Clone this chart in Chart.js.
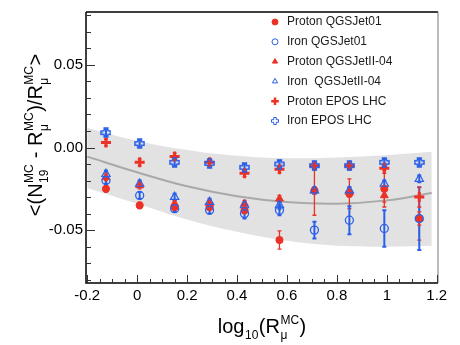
<!DOCTYPE html>
<html>
<head>
<meta charset="utf-8">
<script src="https://cdn.jsdelivr.net/npm/chart.js@4.4.1/dist/chart.umd.min.js"></script>
<style>
  html, body { margin: 0; padding: 0; background: #fff; }
  canvas { display: block; }
</style>
</head>
<body>
<canvas id="muonChart" width="460" height="345"></canvas>
<script>
// x positions of the energy bins, log10(R_mu^MC)
const xBins = [-0.125, 0.01, 0.15, 0.29, 0.43, 0.57, 0.71, 0.85, 0.99, 1.13];

// series values and their errors
const protonQgs01 = [-0.025, -0.035, -0.036, -0.036, -0.038, -0.056, -0.026, -0.028, -0.025, -0.043];
const protonQgs01Err = [0.002, 0.002, 0.002, 0.002, 0.002, 0.0055, 0.015, 0.009, 0.011, 0.013];
const ironQgs01 = [-0.020, -0.029, -0.037, -0.038, -0.040, -0.038, -0.050, -0.044, -0.049, -0.043];
const ironQgs01Err = [0.002, 0.002, 0.002, 0.002, 0.003, 0.003, 0.005, 0.0085, 0.011, 0.019];
const protonQgs2 = [-0.018, -0.023, -0.034, -0.034, -0.034, -0.031, -0.026, -0.027, -0.029, -0.043];
const protonQgs2Err = [0.002, 0.002, 0.002, 0.002, 0.002, 0.002, 0.002, 0.003, 0.004, 0.004];
const ironQgs2 = [-0.016, -0.022, -0.030, -0.033, -0.035, -0.035, -0.026, -0.026, -0.022, -0.019];
const ironQgs2Err = [0.002, 0.002, 0.002, 0.002, 0.002, 0.002, 0.002, 0.002, 0.002, 0.002];
const protonEpos = [0.003, -0.009, -0.0054, -0.009, -0.0156, -0.0132, -0.011, -0.011, -0.0126, -0.030];
const protonEposErr = [0.002, 0.002, 0.002, 0.002, 0.002, 0.002, 0.002, 0.002, 0.003, 0.006];
const ironEpos = [0.009, 0.0024, -0.009, -0.0096, -0.012, -0.010, -0.011, -0.011, -0.009, -0.009];
const ironEposErr = [0.002, 0.002, 0.002, 0.002, 0.002, 0.002, 0.002, 0.002, 0.002, 0.002];

// grey band (fit and its uncertainty)
const bandX = [-0.2, 0, 0.2, 0.4, 0.6, 0.8, 1.0, 1.18];
const bandMid = [-0.0055, -0.015, -0.0235, -0.0295, -0.033, -0.034, -0.032, -0.0275];
const bandHigh = [0.012, 0.004, -0.0015, -0.005, -0.0065, -0.006, -0.0045, -0.0025];
const bandLow = [-0.0245, -0.034, -0.0435, -0.051, -0.0565, -0.0595, -0.060, -0.0595];

// tick labels
const xTicks = [-0.2, 0, 0.2, 0.4, 0.6, 0.8, 1.0, 1.2];
const xTickLabels = ['-0.2', '0', '0.2', '0.4', '0.6', '0.8', '1', '1.2'];
const yTicks = [-0.05, 0, 0.05];
const yTickLabels = ['-0.05', '0.00', '0.05'];

const legendNames = ['Proton QGSJet01', 'Iron QGSJet01', 'Proton QGSJetII-04', 'Iron  QGSJetII-04', 'Proton EPOS LHC', 'Iron EPOS LHC'];

const RED = '#ec3226';
const BLUE = '#2a5fe8';
const FONT = "'Liberation Sans', Arial, Helvetica, sans-serif";

function plusPath(g, cx, cy, r, t) {
    g.beginPath();
    g.moveTo(cx - t, cy - r);
    g.lineTo(cx + t, cy - r);
    g.lineTo(cx + t, cy - t);
    g.lineTo(cx + r, cy - t);
    g.lineTo(cx + r, cy + t);
    g.lineTo(cx + t, cy + t);
    g.lineTo(cx + t, cy + r);
    g.lineTo(cx - t, cy + r);
    g.lineTo(cx - t, cy + t);
    g.lineTo(cx - r, cy + t);
    g.lineTo(cx - r, cy - t);
    g.lineTo(cx - t, cy - t);
    g.closePath();
}

function makeOpenCross(size, color) {
    const c = document.createElement('canvas');
    c.width = size;
    c.height = size;
    const g = c.getContext('2d');
    plusPath(g, size / 2, size / 2, size / 2 - 1, size * 0.17);
    g.strokeStyle = color;
    g.lineWidth = 1.5;
    g.stroke();
    return c;
}

function points(vals) {
    return xBins.map((x, i) => ({ x: x, y: vals[i] }));
}

function bandPoints(vals) {
    return bandX.map((x, i) => ({ x: x, y: vals[i] }));
}

function markerSet(label, vals, errs, color, style, filled, radius, borderWidth, order) {
    return {
        label: label,
        data: points(vals),
        errors: errs,
        errColor: color,
        errWidth: color === BLUE ? 2 : 1.3,
        showLine: false,
        pointStyle: style,
        pointRadius: radius,
        pointBorderColor: color,
        pointBackgroundColor: filled ? color : 'rgba(255,255,255,0)',
        pointBorderWidth: borderWidth,
        order: order
    };
}

// error bars, drawn under the markers
const errorBars = {
    id: 'errorBars',
    afterDatasetDraw(chart, args) {
        if (args.index !== 2) return;
        const ctx = chart.ctx;
        const y = chart.scales.y;
        ctx.save();
        chart.data.datasets.forEach((ds, i) => {
            if (!ds.errors) return;
            const meta = chart.getDatasetMeta(i);
            ctx.strokeStyle = ds.errColor;
            ctx.lineWidth = ds.errWidth;
            meta.data.forEach((pt, j) => {
                const v = ds.data[j].y;
                const e = ds.errors[j];
                const y1 = y.getPixelForValue(v + e);
                const y2 = y.getPixelForValue(v - e);
                ctx.beginPath();
                ctx.moveTo(pt.x, y1);
                ctx.lineTo(pt.x, y2);
                ctx.moveTo(pt.x - 2, y1);
                ctx.lineTo(pt.x + 2, y1);
                ctx.moveTo(pt.x - 2, y2);
                ctx.lineTo(pt.x + 2, y2);
                ctx.stroke();
            });
        });
        ctx.restore();
    }
};

// text with stacked sub/superscripts
function drawRich(ctx, parts, size, cx, cy) {
    const small = Math.round(size * 0.62);
    const big = size + 'px ' + FONT;
    const sm = small + 'px ' + FONT;
    const widths = parts.map(p => {
        if (p.t !== undefined) {
            ctx.font = big;
            return ctx.measureText(p.t).width;
        }
        ctx.font = sm;
        return Math.max(p.sub ? ctx.measureText(p.sub).width : 0, p.sup ? ctx.measureText(p.sup).width : 0) + 1;
    });
    let x = cx - widths.reduce((a, b) => a + b, 0) / 2;
    ctx.textBaseline = 'alphabetic';
    ctx.textAlign = 'left';
    parts.forEach((p, i) => {
        if (p.t !== undefined) {
            ctx.font = big;
            ctx.fillText(p.t, x, cy);
        } else {
            ctx.font = sm;
            if (p.sub) ctx.fillText(p.sub, x + 0.5, cy + size * 0.3);
            if (p.sup) ctx.fillText(p.sup, x + 0.5, cy - size * 0.45);
        }
        x += widths[i];
    });
}

// frame, inward ticks, axis titles and legend
const decorations = {
    id: 'decorations',
    afterDraw(chart) {
        const ctx = chart.ctx;
        const a = chart.chartArea;
        const xs = chart.scales.x;
        const ys = chart.scales.y;
        ctx.save();

        // frame
        ctx.lineWidth = 1.5;
        ctx.strokeStyle = '#000';
        ctx.beginPath();
        ctx.moveTo(a.left, a.top);
        ctx.lineTo(a.right, a.top);
        ctx.moveTo(a.left, a.top);
        ctx.lineTo(a.left, a.bottom);
        ctx.lineTo(a.right, a.bottom);
        ctx.stroke();
        ctx.strokeStyle = '#777';
        ctx.lineWidth = 1;
        ctx.beginPath();
        ctx.moveTo(a.right, a.top);
        ctx.lineTo(a.right, a.bottom);
        ctx.stroke();

        // ticks
        ctx.strokeStyle = '#333';
        ctx.lineWidth = 1;
        ctx.beginPath();
        for (let k = -4; k <= 24; k++) {
            const px = Math.round(xs.getPixelForValue(k * 0.05)) + 0.5;
            const len = k % 4 === 0 ? 8 : 4;
            ctx.moveTo(px, a.bottom);
            ctx.lineTo(px, a.bottom - len);
        }
        for (let k = -8; k <= 8; k++) {
            const py = Math.round(ys.getPixelForValue(k * 0.01)) + 0.5;
            const len = k % 5 === 0 ? 9 : 5;
            ctx.moveTo(a.left, py);
            ctx.lineTo(a.left + len, py);
        }
        ctx.stroke();

        // axis titles
        ctx.fillStyle = '#000';
        drawRich(ctx, [
            { t: 'log' }, { sub: '10' }, { t: '(R' }, { sub: 'μ', sup: 'MC' }, { t: ')' }
        ], 20, (a.left + a.right) / 2, 333);

        ctx.save();
        ctx.translate(42, 135);
        ctx.rotate(-Math.PI / 2);
        drawRich(ctx, [
            { t: '<(N' }, { sub: '19', sup: 'MC' }, { t: ' - R' }, { sub: 'μ', sup: 'MC' },
            { t: ')/R' }, { sub: 'μ', sup: 'MC' }, { t: '>' }
        ], 20, 0, 0);
        ctx.restore();

        // legend
        const markers = chart.data.datasets.slice(3);
        ctx.font = '12px ' + FONT;
        ctx.textBaseline = 'middle';
        ctx.textAlign = 'left';
        markers.forEach((ds, i) => {
            const ly = 22 + i * 19.8;
            const lx = 275;
            ctx.fillStyle = '#1a1a1a';
            ctx.fillText(legendNames[i], 287, ly);
            ctx.strokeStyle = ds.pointBorderColor;
            ctx.fillStyle = ds.pointBackgroundColor;
            if (i === 5) {
                plusPath(ctx, lx, ly, 3.5, 1.3);
                ctx.lineWidth = 1;
                ctx.stroke();
            } else {
                ctx.lineWidth = i === 4 ? 2.5 : 1;
                Chart.helpers.drawPoint(ctx, {
                    pointStyle: ds.pointStyle,
                    radius: i === 4 ? 3.8 : 3,
                    borderWidth: ctx.lineWidth
                }, lx, ly);
            }
        });
        ctx.restore();
    }
};

function initChart() {
    const ctx = document.getElementById('muonChart').getContext('2d');

    new Chart(ctx, {
        type: 'scatter',
        data: {
            datasets: [
                {
                    label: 'band high',
                    data: bandPoints(bandHigh),
                    showLine: true,
                    borderWidth: 0,
                    borderColor: 'rgba(0,0,0,0)',
                    backgroundColor: '#e2e2e2',
                    pointRadius: 0,
                    tension: 0.4,
                    fill: '+1',
                    order: 20
                },
                {
                    label: 'band low',
                    data: bandPoints(bandLow),
                    showLine: true,
                    borderWidth: 0,
                    borderColor: 'rgba(0,0,0,0)',
                    pointRadius: 0,
                    tension: 0.4,
                    fill: false,
                    order: 19
                },
                {
                    label: 'fit',
                    data: bandPoints(bandMid),
                    showLine: true,
                    borderWidth: 2,
                    borderColor: '#a9a9a9',
                    pointRadius: 0,
                    tension: 0.4,
                    fill: false,
                    order: 18
                },
                markerSet(legendNames[0], protonQgs01, protonQgs01Err, RED, 'circle', true, 3.6, 1, 6),
                markerSet(legendNames[1], ironQgs01, ironQgs01Err, BLUE, 'circle', false, 4, 1.3, 1),
                markerSet(legendNames[2], protonQgs2, protonQgs2Err, RED, 'triangle', true, 4.5, 1, 5),
                markerSet(legendNames[3], ironQgs2, ironQgs2Err, BLUE, 'triangle', false, 4.8, 1.2, 2),
                markerSet(legendNames[4], protonEpos, protonEposErr, RED, 'cross', false, 5, 3, 4),
                markerSet(legendNames[5], ironEpos, ironEposErr, BLUE, makeOpenCross(11, BLUE), false, 5.5, 1, 3)
            ]
        },
        options: {
            responsive: false,
            animation: false,
            layout: { padding: { top: 10, right: 22, left: 0, bottom: 0 } },
            plugins: {
                legend: { display: false },
                tooltip: { enabled: false }
            },
            scales: {
                x: {
                    type: 'linear',
                    min: -0.205,
                    max: 1.205,
                    border: { display: false },
                    grid: { display: false, drawTicks: false },
                    afterBuildTicks: scale => { scale.ticks = xTicks.map(v => ({ value: v })); },
                    afterFit: scale => { scale.height = 62; },
                    ticks: {
                        padding: 4,
                        color: '#000',
                        font: { family: FONT, size: 15 },
                        maxRotation: 0,
                        callback: (value, index) => xTickLabels[index]
                    }
                },
                y: {
                    type: 'linear',
                    min: -0.082,
                    max: 0.082,
                    border: { display: false },
                    grid: { display: false, drawTicks: false },
                    afterBuildTicks: scale => { scale.ticks = yTicks.map(v => ({ value: v })); },
                    afterFit: scale => { scale.width = 86; },
                    ticks: {
                        padding: 3,
                        color: '#000',
                        font: { family: FONT, size: 15 },
                        callback: (value, index) => yTickLabels[index]
                    }
                }
            }
        },
        plugins: [errorBars, decorations]
    });
}

document.addEventListener('DOMContentLoaded', initChart);
</script>
</body>
</html>
